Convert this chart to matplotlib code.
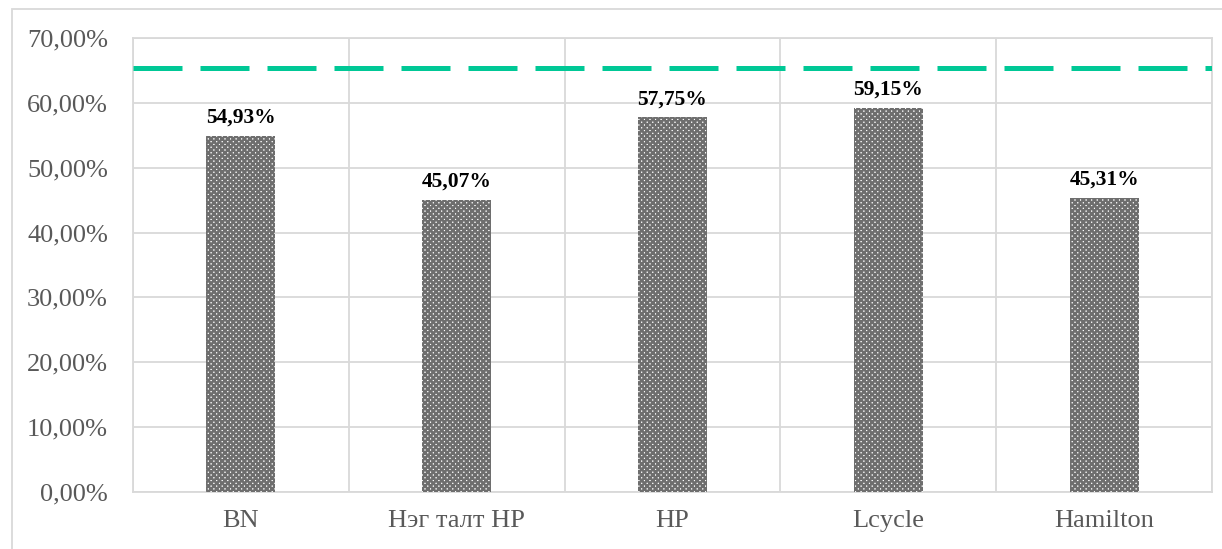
import matplotlib.pyplot as plt
from matplotlib.patches import Rectangle
from matplotlib.ticker import FuncFormatter
import numpy as np

categories = ["BN", "Нэг талт HP", "HP", "Lcycle", "Hamilton"]
values = [54.93, 45.07, 57.75, 59.15, 45.31]
threshold = 65.4

plt.rcParams['font.family'] = ['Liberation Serif', 'DejaVu Serif']
plt.rcParams['hatch.linewidth'] = 1.8
plt.rcParams['hatch.color'] = '#6e6e6e'

fig = plt.figure(figsize=(12.22, 5.49), dpi=100)
ax = fig.add_axes([133 / 1222, 57 / 549, (1212 - 133) / 1222, (492 - 38) / 549])

x = np.arange(len(categories))
ax.bar(x, values, width=0.32, color='white', edgecolor='#6e6e6e',
       hatch='xxxxxx', linewidth=0, zorder=3)

for xi, v in zip(x, values):
    ax.annotate(f"{v:.2f}%".replace(".", ","), (xi, v), xytext=(0, 6),
                textcoords='offset points', ha='center', va='bottom',
                fontsize=15.5, fontweight='bold', color='black')

ax.axhline(threshold, color='#00c896', linewidth=3.6, dashes=(9.8, 3.6), zorder=4)

ax.set_xlim(-0.5, len(categories) - 0.5)
ax.set_ylim(0, 70)
ax.set_yticks(np.arange(0, 71, 10))
ax.yaxis.set_major_formatter(FuncFormatter(lambda v, p: f"{v:.2f}%".replace(".", ",")))
ax.set_xticks(x)
ax.set_xticklabels(categories)

# vertical separators between categories
ax.set_xticks(np.arange(-0.5, len(categories), 1), minor=True)
ax.grid(True, which='minor', axis='x', color='#d9d9d9', linewidth=1.3, zorder=0)
ax.grid(True, which='major', axis='y', color='#d9d9d9', linewidth=1.3, zorder=0)

ax.tick_params(axis='both', which='both', length=0)
ax.tick_params(axis='y', labelsize=19, labelcolor='#595959', pad=18)
ax.tick_params(axis='x', labelsize=19, labelcolor='#595959', pad=13)
for s in ax.spines.values():
    s.set_color('#d9d9d9')
    s.set_linewidth(1.3)

# outer chart border
fig.patches.append(Rectangle((12 / 1222, -0.1), 1.1, 1.1 - 9 / 549, transform=fig.transFigure,
                             fill=False, edgecolor='#d9d9d9', linewidth=1.3))

fig.savefig("out.png", dpi=100)
